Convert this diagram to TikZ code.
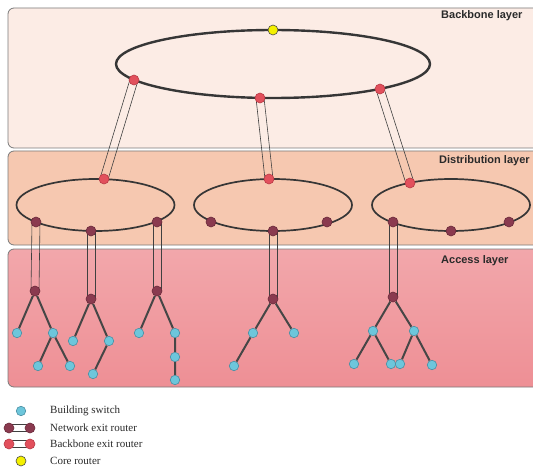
\documentclass[tikz,border=0pt]{standalone}
\usepackage{fontspec}
\setmainfont{Liberation Serif}
\newfontfamily\labfont{Liberation Sans}
\usetikzlibrary{calc}
\pgfdeclarelayer{panels}
\pgfdeclarelayer{links}
\pgfsetlayers{panels,links,main}
\definecolor{bbfill}{HTML}{FCECE5}
\definecolor{dsfill}{HTML}{F6C8B0}
\definecolor{actop}{HTML}{F2A7AB}
\definecolor{acbot}{HTML}{EE8F95}
\definecolor{panelborder}{HTML}{7A7A7A}
\definecolor{cyanfill}{HTML}{6DC6DB}
\definecolor{cyanedge}{HTML}{4A8FA3}
\definecolor{netfill}{HTML}{8A3A4F}
\definecolor{netedge}{HTML}{6A2A3A}
\definecolor{redfill}{HTML}{E2505C}
\definecolor{rededge}{HTML}{B83A46}
\definecolor{yelfill}{HTML}{F4F000}
\definecolor{ringcol}{HTML}{363636}
\definecolor{edgecol}{HTML}{464646}
\definecolor{tubecol}{HTML}{404040}
\definecolor{txtcol}{HTML}{2A2A2A}
\newcommand\tubelink[2]{%
  \draw[tube] ($(#1)!4pt!90:(#2)$) -- ($(#2)!4pt!-90:(#1)$);
  \draw[tube] ($(#1)!4pt!-90:(#2)$) -- ($(#2)!4pt!90:(#1)$);}
\tikzset{
  panel/.style={draw=panelborder, line width=0.8pt, rounded corners=6pt},
  sw/.style={circle, fill=cyanfill, draw=cyanedge, line width=0.6pt, inner sep=0pt, minimum size=9.5pt},
  ner/.style={circle, fill=netfill, draw=netedge, line width=0.6pt, inner sep=0pt, minimum size=10pt},
  ber/.style={circle, fill=redfill, draw=rededge, line width=0.6pt, inner sep=0pt, minimum size=10pt},
  core/.style={circle, fill=yelfill, draw=black!70, line width=0.6pt, inner sep=0pt, minimum size=10pt},
  ringbig/.style={draw=ringcol, line width=2.4pt},
  ringsmall/.style={draw=ringcol, line width=1.7pt},
  treeedge/.style={draw=edgecol, line width=2pt},
  tube/.style={draw=tubecol, line width=0.6pt},
  layerlabel/.style={font=\labfont\bfseries\fontsize{11}{13}\selectfont, anchor=west, text=txtcol, inner sep=0pt},
  legtext/.style={font=\fontsize{11}{13}\selectfont, anchor=west, text=txtcol, inner sep=0pt}
}
\begin{document}
\begin{tikzpicture}[x=1pt,y=-1pt]
\useasboundingbox (0,0) rectangle (533,468);
\begin{pgfonlayer}{panels}
\fill[white] (0,0) rectangle (533,468);
\draw[panel, fill=bbfill] (8,8) rectangle (545,148);
\draw[panel, fill=dsfill] (8,151) rectangle (545,245);
\draw[panel, top color=actop, bottom color=acbot] (8,249) rectangle (545,387);
\end{pgfonlayer}
\node[layerlabel] (lbb) at (441,16) {Backbone layer};
\node[layerlabel] (lds) at (439,161) {Distribution layer};
\node[layerlabel] (lac) at (441,261) {Access layer};
% rings
\begin{pgfonlayer}{links}
\draw[ringbig] (273,64) ellipse [x radius=157pt, y radius=34pt];
\draw[ringsmall] (95.5,205) ellipse [x radius=79pt, y radius=26pt];
\draw[ringsmall] (273,205) ellipse [x radius=79pt, y radius=26pt];
\draw[ringsmall] (451,205) ellipse [x radius=79pt, y radius=26pt];
\end{pgfonlayer}
% ring nodes
\node[core] (core) at (273,30) {};
\node[ber] (b1) at (134,80) {};
\node[ber] (b2) at (260,98) {};
\node[ber] (b3) at (380,89) {};
\node[ber] (d1) at (104,179) {};
\node[ber] (d2) at (269,179) {};
\node[ber] (d3) at (410,183) {};
\node[ner] (n11) at (36,222) {};
\node[ner] (n12) at (91,231) {};
\node[ner] (n13) at (157,222) {};
\node[ner] (n21) at (211,222) {};
\node[ner] (n22) at (273,231) {};
\node[ner] (n23) at (327,222) {};
\node[ner] (n31) at (393,222) {};
\node[ner] (n32) at (451,231) {};
\node[ner] (n33) at (509,222) {};
% access roots
\node[ner] (a1) at (35,291) {};
\node[ner] (a2) at (91,299) {};
\node[ner] (a3) at (157,291) {};
\node[ner] (a4) at (273,299) {};
\node[ner] (a5) at (393,297) {};
% switches
\node[sw] (s11) at (17,333) {};
\node[sw] (s12) at (53,333) {};
\node[sw] (s13) at (38,366) {};
\node[sw] (s14) at (70,366) {};
\node[sw] (s21) at (73,341) {};
\node[sw] (s22) at (109,341) {};
\node[sw] (s23) at (93,374) {};
\node[sw] (s31) at (139,333) {};
\node[sw] (s32) at (175,333) {};
\node[sw] (s33) at (175,357) {};
\node[sw] (s34) at (175,380) {};
\node[sw] (s41) at (253,333) {};
\node[sw] (s42) at (294,333) {};
\node[sw] (s43) at (234,366) {};
\node[sw] (s51) at (373,331) {};
\node[sw] (s52) at (414,331) {};
\node[sw] (s53) at (354,364) {};
\node[sw] (s54) at (391,364) {};
\node[sw] (s55) at (400,364) {};
\node[sw] (s56) at (432,365) {};
% links
\begin{pgfonlayer}{links}
\tubelink{b1}{d1}
\tubelink{b2}{d2}
\tubelink{b3}{d3}
\tubelink{n11}{a1}
\tubelink{n12}{a2}
\tubelink{n13}{a3}
\tubelink{n22}{a4}
\tubelink{n31}{a5}
\draw[treeedge] (a1) -- (s11) (a1) -- (s12) (s12) -- (s13) (s12) -- (s14);
\draw[treeedge] (a2) -- (s21) (a2) -- (s22) (s22) -- (s23);
\draw[treeedge] (a3) -- (s31) (a3) -- (s32) (s32) -- (s33) (s33) -- (s34);
\draw[treeedge] (a4) -- (s41) (a4) -- (s42) (s41) -- (s43);
\draw[treeedge] (a5) -- (s51) (a5) -- (s52) (s51) -- (s53) (s51) -- (s54) (s52) -- (s55) (s52) -- (s56);
\end{pgfonlayer}
% legend
\node[sw] (ls) at (21,411) {};
\node[ner] (ln1) at (9,428) {};
\node[ner] (ln2) at (30,428) {};
\node[ber] (lb1) at (9,444) {};
\node[ber] (lb2) at (30,444) {};
\begin{pgfonlayer}{links}
\draw[tube, fill=white] ($(ln1)+(0,-3.5)$) rectangle ($(ln2)+(0,3.5)$);
\draw[tube, fill=white] ($(lb1)+(0,-3.5)$) rectangle ($(lb2)+(0,3.5)$);
\end{pgfonlayer}
\node[core] (lc) at (21,461) {};
\node[legtext] (t1) at (50,411) {Building switch};
\node[legtext] (t2) at (50,428) {Network exit router};
\node[legtext] (t3) at (50,444) {Backbone exit router};
\node[legtext] (t4) at (50,461) {Core router};
\end{tikzpicture}
\end{document}
